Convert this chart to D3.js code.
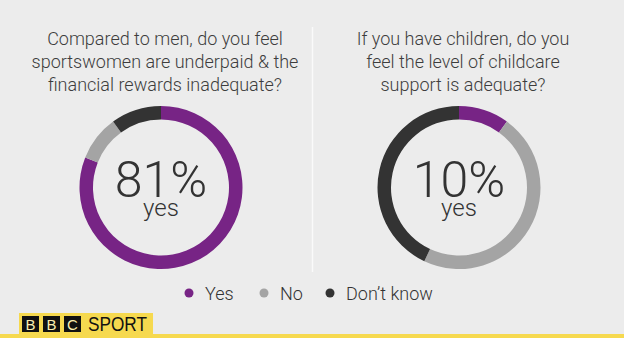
<!DOCTYPE html>
<html>
<head>
<meta charset="utf-8">
<script src="https://cdn.jsdelivr.net/npm/d3@7"></script>
<style>
    html, body { margin: 0; padding: 0; background: #ececec; }
    svg { display: block; font-family: Roboto, "Liberation Sans", sans-serif; }
</style>
</head>
<body>
<svg id="chart-svg" width="624" height="351"></svg>
<script>

// answers, clockwise from 12 o'clock
const categories = ['Yes', 'No', 'Don\u2019t know'];
const colours = ['#772485', '#a4a4a4', '#333333'];

const payValues = [81, 9, 10];
const childcareValues = [10, 47, 43];

const payQuestion = ['Compared to men, do you feel', 'sportswomen are underpaid & the', 'financial rewards inadequate?'];
const childcareQuestion = ['If you have children, do you', 'feel the level of childcare', 'support is adequate?'];


class DonutCharts {

    constructor() {
        this.svg = d3.select('#chart-svg');
        this.colour = d3.scaleOrdinal().domain(categories).range(colours);
    }

    drawAll() {
        this.drawBackground();
        this.drawDonut(payQuestion, payValues, 161, 187.5);
        this.drawDonut(childcareQuestion, childcareValues, 459, 187.5);
        this.drawLegend();
        this.drawLogo();
    }

    drawBackground() {
        let svg = this.svg;

        svg.append('rect')
            .attr('width', 624).attr('height', 351)
            .attr('fill', '#ececec');

        // divider between the two questions
        svg.append('line')
            .attr('x1', 312.5).attr('x2', 312.5)
            .attr('y1', 27).attr('y2', 272)
            .attr('stroke', '#fafafa')
            .attr('stroke-width', 1.5);

        // yellow rule and white strip at the foot
        svg.append('rect')
            .attr('x', 0).attr('y', 338)
            .attr('width', 624).attr('height', 13)
            .attr('fill', '#ffffff');
        svg.append('rect')
            .attr('x', 0).attr('y', 334)
            .attr('width', 624).attr('height', 4)
            .attr('fill', '#f6d94f');
    }

    drawDonut(question, values, cx, cy) {
        let g = this.svg.append('g')
            .attr('transform', 'translate(' + cx + ',' + cy + ')');

        let pie = d3.pie().sort(null).value(d => d.value);
        let arc = d3.arc().innerRadius(68).outerRadius(81.5);

        let data = categories.map((c, i) => ({ key: c, value: values[i] }));

        g.selectAll('path')
            .data(pie(data))
            .enter().append('path')
            .attr('d', arc)
            .attr('fill', d => this.colour(d.data.key));

        // big number in the middle
        g.append('text')
            .attr('text-anchor', 'middle')
            .attr('y', 9)
            .attr('font-size', 50)
            .attr('font-weight', 300)
            .attr('fill', '#333')
            .text(values[0] + '%');

        g.append('text')
            .attr('text-anchor', 'middle')
            .attr('y', 28)
            .attr('font-size', 24)
            .attr('font-weight', 300)
            .attr('fill', '#333')
            .text(categories[0].toLowerCase());

        // question above
        let title = this.svg.append('text')
            .attr('text-anchor', 'middle')
            .attr('font-size', 18)
            .attr('font-weight', 300)
            .attr('fill', '#3d3d3d');

        title.selectAll('tspan')
            .data(question)
            .enter().append('tspan')
            .attr('x', cx + 4)
            .attr('y', (d, i) => 45 + i * 23)
            .text(d => d);
    }

    drawLegend() {
        let xs = [189, 264, 330];

        let item = this.svg.append('g').selectAll('g')
            .data(categories)
            .enter().append('g')
            .attr('transform', (d, i) => 'translate(' + xs[i] + ',293)');

        item.append('circle')
            .attr('r', 4.5)
            .attr('fill', d => this.colour(d));

        item.append('text')
            .attr('x', 16)
            .attr('y', 6.5)
            .attr('font-size', 18)
            .attr('font-weight', 300)
            .attr('fill', '#333')
            .text(d => d);
    }

    drawLogo() {
        let g = this.svg.append('g');

        g.append('rect')
            .attr('x', 19).attr('y', 313)
            .attr('width', 134).attr('height', 21)
            .attr('fill', '#f6d94f');

        let blocks = g.selectAll('g')
            .data(['B', 'B', 'C'])
            .enter().append('g')
            .attr('transform', (d, i) => 'translate(' + (22 + i * 21) + ',316)');

        blocks.append('rect')
            .attr('width', 17).attr('height', 16)
            .attr('fill', '#111');

        blocks.append('text')
            .attr('x', 8.5).attr('y', 13.5)
            .attr('text-anchor', 'middle')
            .attr('font-family', '"Liberation Sans", Arial, sans-serif')
            .attr('font-size', 15)
            .attr('fill', '#fbeeb0')
            .text(d => d);

        g.append('text')
            .attr('x', 88).attr('y', 331)
            .attr('font-family', '"Liberation Sans", Arial, sans-serif')
            .attr('font-size', 21)
            .attr('textLength', 59)
            .attr('lengthAdjust', 'spacingAndGlyphs')
            .attr('fill', '#111')
            .text('SPORT');
    }
}

let charts = new DonutCharts();
charts.drawAll();

</script>
</body>
</html>
